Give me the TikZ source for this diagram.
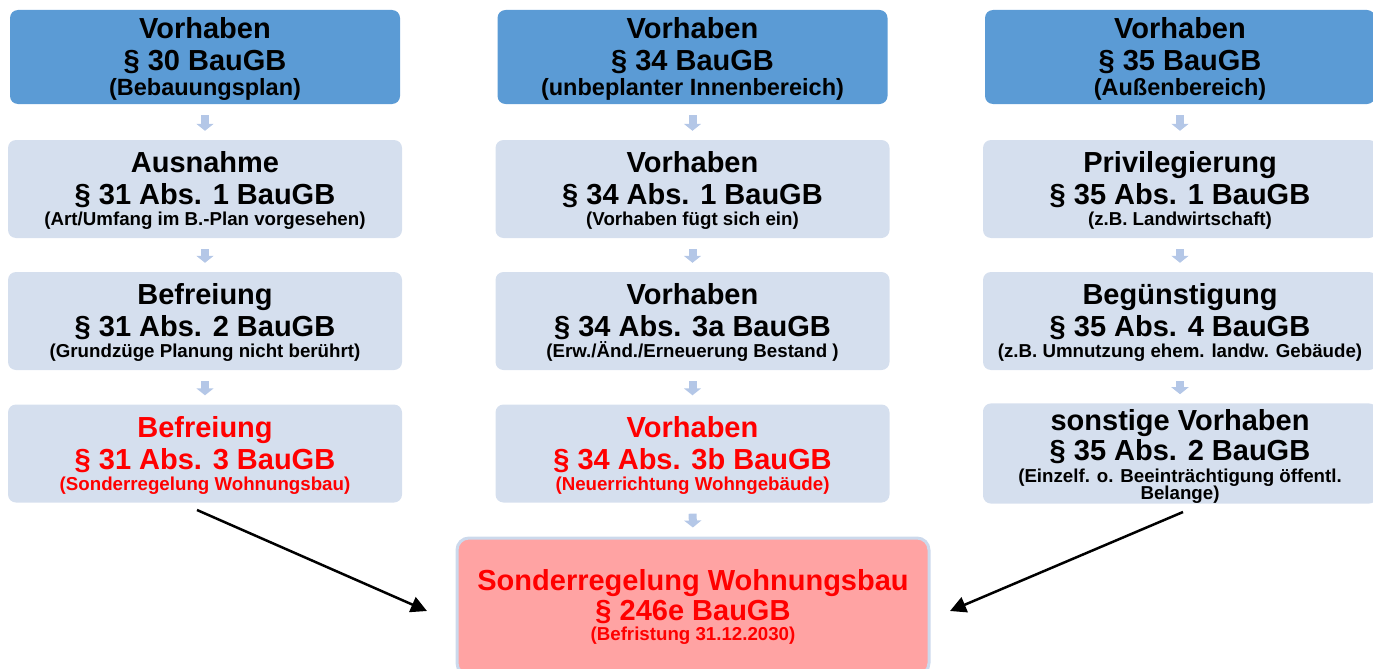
\documentclass[tikz,border=0pt]{standalone}
\usepackage{fontspec}
\setmainfont{Liberation Sans}
\usetikzlibrary{arrows.meta}
\definecolor{topblue}{HTML}{5B9BD5}
\definecolor{lightbox}{HTML}{D5DFEE}
\definecolor{arrowblue}{HTML}{B4C7E7}
\definecolor{redfill}{HTML}{FFA3A3}
\definecolor{redborder}{HTML}{CCD9EC}
\definecolor{redtext}{HTML}{FF0000}
\newcommand{\smtop}[1]{{\fontsize{23.5}{26}\selectfont #1}}
\newcommand{\smln}[1]{{\fontsize{18.7}{22}\selectfont #1}}
\newcommand{\tp}[1]{\rule{0pt}{#1}}
\tikzset{
  bigfont/.style={font=\bfseries\fontsize{29}{32}\selectfont},
  topbox/.style={rounded corners=8pt, fill=topblue, minimum width=390pt, minimum height=94pt, inner sep=0pt, align=center, bigfont},
  midbox/.style={rounded corners=8pt, fill=lightbox, minimum width=394pt, minimum height=98pt, inner sep=0pt, align=center, bigfont},
  botbox/.style={rounded corners=12pt, fill=redfill, draw=redborder, line width=3pt, minimum width=472pt, minimum height=137pt, inner sep=0pt, align=center, bigfont, text=redtext},
  smallarr/.style={arrowblue, line width=8pt, -{Triangle[width=17pt,length=7pt]}, shorten <=11pt, shorten >=9pt},
  blkarr/.style={black, line width=2.5pt, -{Triangle[length=16pt,width=16pt]}}
}
\begin{document}
\begin{tikzpicture}[x=1pt,y=-1pt]
\useasboundingbox (0,0) rectangle (1373,669);
\clip (0,0) rectangle (1373,669);
% top row
\node[topbox] (t1) at (205,57) {\tp{25.2pt}Vorhaben\\§ 30 BauGB\\[-7pt]\smtop{(Bebauungsplan)}};
\node[topbox] (t2) at (692.5,57) {\tp{25.2pt}Vorhaben\\§ 34 BauGB\\[-7pt]\smtop{(unbeplanter Innenbereich)}};
\node[topbox] (t3) at (1180,57) {\tp{25.2pt}Vorhaben\\§ 35 BauGB\\[-7pt]\smtop{(Außenbereich)}};
% row 2
\node[midbox] (a1) at (205,189) {\tp{24.2pt}Ausnahme\\§ 31 Abs. 1 BauGB\\[-11pt]\smln{(Art/Umfang im B.-Plan vorgesehen)}};
\node[midbox] (a2) at (692.5,189) {\tp{24.2pt}Vorhaben\\§ 34 Abs. 1 BauGB\\[-11pt]\smln{(Vorhaben fügt sich ein)}};
\node[midbox] (a3) at (1180,189) {\tp{24.2pt}Privilegierung\\§ 35 Abs. 1 BauGB\\[-11pt]\smln{(z.B. Landwirtschaft)}};
% row 3
\node[midbox] (b1) at (205,321) {\tp{24.2pt}Befreiung\\§ 31 Abs. 2 BauGB\\[-11pt]\smln{(Grundzüge Planung nicht berührt)}};
\node[midbox] (b2) at (692.5,321) {\tp{24.2pt}Vorhaben\\§ 34 Abs. 3a BauGB\\[-11pt]\smln{(Erw./Änd./Erneuerung Bestand )}};
\node[midbox] (b3) at (1180,321) {\tp{24.2pt}Begünstigung\\§ 35 Abs. 4 BauGB\\[-11pt]\smln{(z.B. Umnutzung ehem. landw. Gebäude)}};
% row 4
\node[midbox, text=redtext] (c1) at (205,453.5) {\tp{24.2pt}Befreiung\\§ 31 Abs. 3 BauGB\\[-11pt]\smln{(Sonderregelung Wohnungsbau)}};
\node[midbox, text=redtext] (c2) at (692.5,453.5) {\tp{24.2pt}Vorhaben\\§ 34 Abs. 3b BauGB\\[-11pt]\smln{(Neuerrichtung Wohngebäude)}};
\node[midbox] (c3) at (1180,453.5) {\tp{27.2pt}sonstige Vorhaben\\[-2pt]§ 35 Abs. 2 BauGB\\[-10pt]\smln{(Einzelf. o. Beeinträchtigung öffentl.}\\[-15pt]\smln{Belange)}};
% bottom
\node[botbox] (bot) at (693,606.5) {Sonderregelung Wohnungsbau\\[-2pt]§ 246e BauGB\\[-12pt]\smln{(Befristung 31.12.2030)}};
% small arrows
\foreach \u/\v in {t1/a1,a1/b1,b1/c1,t2/a2,a2/b2,b2/c2,c2/bot,t3/a3,a3/b3,b3/c3}
  \draw[smallarr] (\u.south) -- (\v.north);
% black arrows
\coordinate (s1) at (197,510);
\coordinate (e1) at (427,611);
\coordinate (s2) at (1183,512);
\coordinate (e2) at (950,611);
\draw[blkarr] (s1) -- (e1);
\draw[blkarr] (s2) -- (e2);
\end{tikzpicture}
\end{document}
